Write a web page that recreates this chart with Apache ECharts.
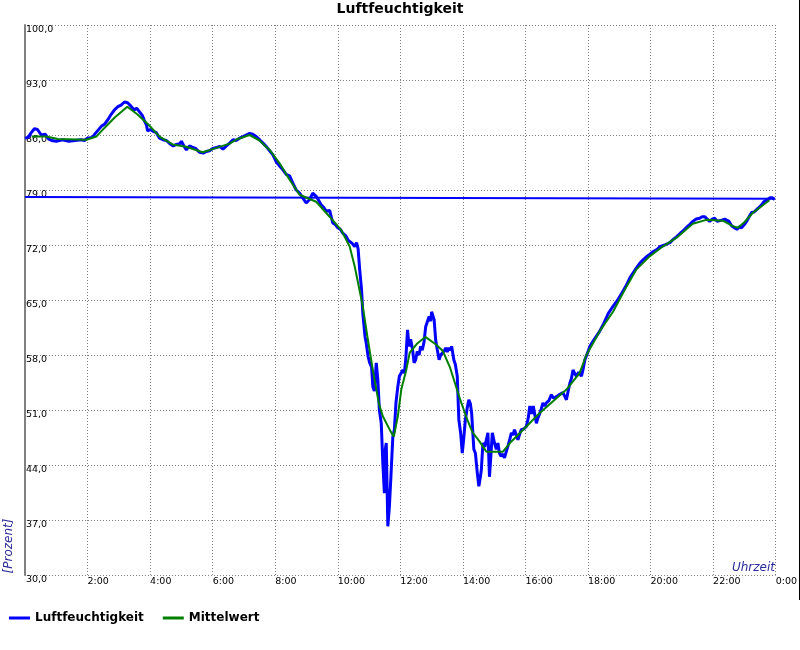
<!DOCTYPE html>
<html>
<head>
<meta charset="utf-8">
<script src="https://cdn.jsdelivr.net/npm/echarts@6/dist/echarts.min.js"></script>
<style>html,body{margin:0;padding:0;background:#fff}#c{width:800px;height:650px}</style>
</head>
<body>
<div id="c"></div>
<script>
var chartTitle = 'Luftfeuchtigkeit';
var seriesNames = ['Luftfeuchtigkeit', 'Mittelwert'];
var yAxisName = '[Prozent]';
var xAxisName = 'Uhrzeit';

var humidityTimes = [0.0,0.1,0.2,0.3,0.4,0.52,0.65,0.75,0.85,1.0,1.2,1.4,1.6,1.8,1.9,2.0,2.15,2.27,2.44,2.55,2.65,2.75,2.86,2.97,3.07,3.18,3.28,3.38,3.49,3.57,3.65,3.75,3.81,3.88,3.92,4.0,4.08,4.2,4.3,4.41,4.52,4.63,4.74,4.84,4.95,5.0,5.08,5.16,5.25,5.32,5.45,5.58,5.7,5.8,5.9,6.01,6.12,6.22,6.33,6.44,6.55,6.65,6.75,6.86,6.97,7.07,7.18,7.28,7.39,7.5,7.6,7.71,7.82,7.92,8.03,8.13,8.24,8.35,8.46,8.56,8.67,8.78,8.88,8.99,9.1,9.2,9.31,9.4,9.47,9.55,9.63,9.74,9.84,9.92,10.0,10.08,10.16,10.25,10.33,10.38,10.46,10.54,10.6,10.65,10.7,10.76,10.8,10.87,10.91,10.97,11.02,11.08,11.12,11.17,11.23,11.28,11.33,11.39,11.44,11.49,11.52,11.55,11.6,11.65,11.7,11.76,11.81,11.86,11.92,11.97,12.03,12.08,12.13,12.18,12.23,12.28,12.33,12.39,12.44,12.49,12.54,12.6,12.65,12.7,12.76,12.81,12.86,12.92,12.97,13.0,13.04,13.08,13.13,13.18,13.24,13.29,13.34,13.4,13.45,13.5,13.55,13.6,13.64,13.71,13.76,13.82,13.87,13.93,13.98,14.03,14.08,14.14,14.19,14.24,14.28,14.35,14.4,14.46,14.51,14.56,14.59,14.64,14.7,14.75,14.8,14.85,14.9,14.94,15.01,15.07,15.12,15.17,15.22,15.28,15.33,15.38,15.44,15.5,15.55,15.6,15.65,15.7,15.76,15.82,15.87,15.95,16.03,16.09,16.14,16.2,16.25,16.3,16.35,16.4,16.46,16.51,16.56,16.62,16.67,16.75,16.83,16.9,16.99,17.1,17.2,17.25,17.31,17.37,17.42,17.47,17.52,17.58,17.63,17.7,17.79,17.85,17.9,17.98,18.06,18.2,18.37,18.5,18.65,18.8,18.95,19.1,19.23,19.35,19.45,19.55,19.66,19.76,19.87,19.97,20.1,20.2,20.3,20.45,20.62,20.72,20.82,20.95,21.04,21.14,21.25,21.35,21.46,21.57,21.65,21.73,21.81,21.89,21.97,22.05,22.13,22.21,22.3,22.37,22.43,22.51,22.59,22.68,22.76,22.84,22.91,23.0,23.07,23.15,23.23,23.31,23.39,23.47,23.55,23.62,23.66,23.74,23.82,23.9,23.97];
var humidityValues = [85.6,85.7,86.3,86.8,86.7,86.0,86.1,85.5,85.3,85.2,85.4,85.2,85.3,85.4,85.3,85.6,85.7,86.3,87.1,87.4,87.95,88.6,89.2,89.6,89.8,90.2,90.1,89.7,89.2,89.4,89.0,88.5,87.9,87.3,86.5,86.7,86.5,86.3,85.6,85.4,85.3,84.9,84.6,84.8,84.9,85.2,84.6,84.1,84.6,84.5,84.3,83.8,83.7,83.9,84.0,84.3,84.4,84.55,84.2,84.6,85.0,85.4,85.3,85.6,85.8,86.0,86.2,86.1,85.8,85.4,85.0,84.55,84.0,83.5,82.6,82.1,81.6,81.0,80.8,79.9,79.0,78.6,78.0,77.35,77.8,78.6,78.2,77.6,77.1,76.8,76.3,76.4,74.8,74.6,74.2,74.0,73.5,73.2,72.6,72.5,72.2,71.8,72.3,71.5,68.9,66.3,63.3,60.4,59.5,57.8,57.0,56.5,54.0,53.4,57.0,54.9,51.0,49.3,44.3,40.4,46.0,46.8,36.2,38.7,42.6,47.6,48.5,51.9,54.0,55.3,55.5,56.1,55.7,57.8,61.2,59.1,60.0,58.7,57.0,57.4,58.45,58.0,59.1,58.6,59.7,61.6,61.8,62.9,62.3,63.5,63.0,62.5,59.9,58.7,57.4,58.0,58.25,58.5,58.9,58.4,58.9,58.6,59.1,57.4,56.8,55.3,49.8,48.0,45.5,47.5,49.8,51.3,52.3,51.8,50.6,46.0,45.5,43.0,41.3,42.5,43.4,46.8,46.3,47.2,48.1,42.5,45.5,48.1,46.8,46.0,46.8,45.5,45.1,45.4,44.9,45.6,46.4,47.3,48.1,47.8,48.5,47.9,47.2,48.0,48.5,48.6,48.9,50.0,51.5,50.5,51.5,50.4,49.3,50.0,50.6,51.2,51.9,51.5,51.9,52.2,52.95,52.5,52.7,53.0,53.2,53.4,52.3,53.5,54.4,55.0,56.1,55.6,55.3,55.8,55.3,56.3,57.4,58.2,59.1,60.0,61.0,62.0,63.3,64.2,65.0,66.0,66.9,67.9,68.5,69.1,69.7,70.1,70.5,70.8,71.2,71.4,71.8,72.0,72.3,72.7,73.0,73.5,73.8,74.2,74.6,75.0,75.3,75.4,75.6,75.6,75.3,75.0,75.3,75.4,75.0,75.1,75.2,75.3,75.4,75.0,74.45,74.2,74.0,74.3,74.2,74.6,75.0,75.6,76.15,76.2,76.5,76.8,77.1,77.5,77.7,77.8,78.0,78.0,77.8];

var meanTimes = [0.22,0.68,1.05,1.96,2.28,2.54,2.86,3.27,3.6,3.95,4.3,4.72,5.15,5.68,6.0,6.54,6.8,7.18,7.5,7.82,8.14,8.46,8.78,9.31,9.74,10.11,10.38,10.54,10.8,10.96,11.12,11.31,11.44,11.66,11.79,11.92,12.03,12.19,12.3,12.55,12.8,13.15,13.36,13.58,13.9,14.1,14.3,14.53,14.75,15.28,15.55,16.03,16.45,16.99,17.31,17.73,17.95,18.37,18.8,19.23,19.55,19.97,20.39,20.82,21.35,21.78,22.31,22.63,22.79,23.0,23.27,23.6,23.8];
var meanValues = [85.8,85.8,85.5,85.4,85.8,86.9,88.2,89.6,88.6,87.3,85.8,84.8,84.5,83.8,84.2,84.9,85.5,86.0,85.3,84.1,82.4,80.3,78.4,77.5,75.6,73.9,71.8,69.3,64.2,60.0,56.1,51.9,50.2,48.5,47.6,50.2,53.6,56.1,58.3,59.5,60.3,59.3,58.5,56.5,52.5,50.2,48.2,47.0,45.7,45.7,47.0,48.9,50.6,52.5,53.6,55.7,58.0,61.0,63.5,66.7,68.9,70.55,71.8,72.9,74.7,75.2,75.1,74.4,74.2,74.9,76.1,77.1,77.7];

// closing segment of the humidity trace (end of day back to start)
var returnTimes = [23.97, 0];
var returnValues = [77.9, 78.1];

var yTicks = [30, 37, 44, 51, 58, 65, 72, 79, 86, 93, 100];
var xTickHours = [0, 2, 4, 6, 8, 10, 12, 14, 16, 18, 20, 22, 24];

function pairs(t, v) { return t.map(function (x, i) { return [x, v[i]]; }); }

var BLUE = '#0000ff', GREEN = '#007f00', GRID = '#808080';
var FONT = 'DejaVu Sans';

var chart = echarts.init(document.getElementById('c'), null, {renderer: 'canvas'});
chart.setOption({
  animation: false,
  backgroundColor: '#ffffff',
  title: {
    text: chartTitle, left: 'center', top: 0, padding: [2, 0, 0, 0],
    textStyle: {fontFamily: FONT, fontSize: 14, fontWeight: 'bold', color: '#000'}
  },
  legend: {
    data: seriesNames, left: 9, top: 612, itemGap: 19, padding: 0,
    itemWidth: 21, itemHeight: 3, icon: 'rect',
    textStyle: {fontFamily: FONT, fontSize: 12, fontWeight: 'bold', color: '#000'}
  },
  grid: {left: 25, right: 24, top: 25, bottom: 75, containLabel: false},
  xAxis: {
    type: 'value', min: xTickHours[0], max: xTickHours[xTickHours.length - 1], interval: 2,
    axisLine: {show: false}, axisTick: {show: false},
    axisLabel: {
      showMinLabel: false, align: 'left', margin: 2,
      fontFamily: FONT, fontSize: 9.5, color: '#000',
      formatter: function (v) { return (v % 24) + ':00'; }
    },
    splitLine: {show: true, lineStyle: {color: GRID, width: 1, type: [1, 2]}}
  },
  yAxis: {
    type: 'value', min: yTicks[0], max: yTicks[yTicks.length - 1], interval: 7,
    axisLine: {show: true, lineStyle: {color: GRID, width: 2}}, axisTick: {show: false},
    axisLabel: {
      inside: true, align: 'left', verticalAlign: 'top', margin: 1,
      fontFamily: FONT, fontSize: 9.5, color: '#000',
      formatter: function (v) { return v.toFixed(1).replace('.', ','); }
    },
    splitLine: {show: true, lineStyle: {color: GRID, width: 1, type: [1, 2]}}
  },
  series: [
    {
      name: seriesNames[0], type: 'line', data: pairs(humidityTimes, humidityValues),
      showSymbol: false, symbol: 'none', lineStyle: {color: BLUE, width: 3}, itemStyle: {color: BLUE}, z: 2
    },
    {
      name: seriesNames[0], type: 'line', data: pairs(returnTimes, returnValues),
      showSymbol: false, symbol: 'none', lineStyle: {color: BLUE, width: 2}, itemStyle: {color: BLUE}, z: 2
    },
    {
      name: seriesNames[1], type: 'line', data: pairs(meanTimes, meanValues),
      showSymbol: false, symbol: 'none', lineStyle: {color: GREEN, width: 2}, itemStyle: {color: GREEN}, z: 3
    }
  ],
  graphic: [
    {
      type: 'text', x: 9, y: 546, rotation: Math.PI / 2,
      style: {text: yAxisName, fill: '#2a2a9a', font: 'italic 12px "DejaVu Sans"', align: 'center', verticalAlign: 'middle'}
    },
    {
      type: 'text', x: 775, y: 574,
      style: {text: xAxisName, fill: '#2a2a9a', font: 'italic 12px "DejaVu Sans"', align: 'right', verticalAlign: 'bottom'}
    },
    {
      type: 'line', shape: {x1: 799.5, y1: 0, x2: 799.5, y2: 600},
      style: {stroke: '#000', lineWidth: 1}
    }
  ]
});
</script>
</body>
</html>
